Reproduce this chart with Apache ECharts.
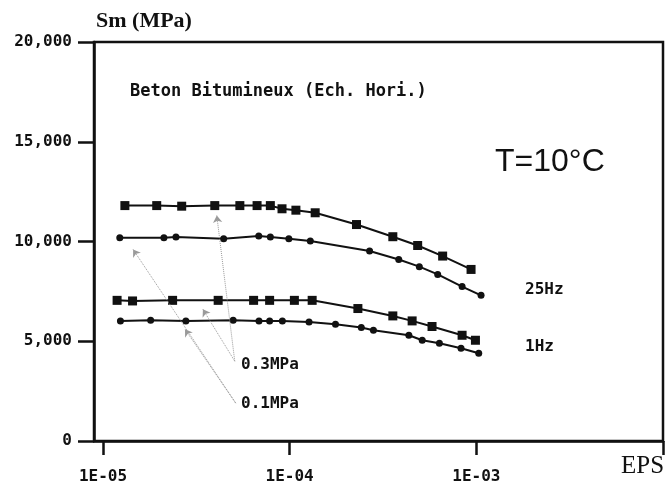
<!DOCTYPE html>
<html>
<head>
<meta charset="utf-8">
<script src="https://cdn.jsdelivr.net/npm/echarts@6/dist/echarts.min.js"></script>
<style>
  html, body { margin: 0; padding: 0; background: #fff; }
  #chart { width: 668px; height: 483px; }
</style>
</head>
<body>
<div id="chart"></div>
<script>
// strain (EPS) and modulus Sm (MPa)
const eps25Hz03 = [1.31e-5, 1.94e-5, 2.64e-5, 3.97e-5, 5.41e-5, 6.69e-5, 7.88e-5, 9.1e-5, 1.08e-4, 1.37e-4, 2.28e-4, 3.57e-4, 4.85e-4, 6.6e-4, 9.37e-4];
const sm25Hz03 = [11800, 11800, 11770, 11800, 11800, 11800, 11800, 11640, 11570, 11440, 10850, 10240, 9800, 9270, 8600];

const eps25Hz01 = [1.23e-5, 2.12e-5, 2.46e-5, 4.43e-5, 6.83e-5, 7.88e-5, 9.9e-5, 1.29e-4, 2.68e-4, 3.84e-4, 4.95e-4, 6.21e-4, 8.39e-4, 1.06e-3];
const sm25Hz01 = [10190, 10190, 10220, 10140, 10270, 10220, 10140, 10020, 9520, 9100, 8740, 8350, 7740, 7300];

const eps1Hz03 = [1.19e-5, 1.44e-5, 2.36e-5, 4.14e-5, 6.41e-5, 7.81e-5, 1.06e-4, 1.32e-4, 2.32e-4, 3.57e-4, 4.53e-4, 5.79e-4, 8.39e-4, 9.89e-4];
const sm1Hz03 = [7050, 7020, 7050, 7050, 7050, 7050, 7050, 7050, 6640, 6270, 6020, 5740, 5300, 5050];

const eps1Hz01 = [1.24e-5, 1.80e-5, 2.78e-5, 4.98e-5, 6.85e-5, 7.81e-5, 9.14e-5, 1.27e-4, 1.76e-4, 2.42e-4, 2.81e-4, 4.35e-4, 5.13e-4, 6.34e-4, 8.28e-4, 1.03e-3];
const sm1Hz01 = [6020, 6050, 6020, 6050, 6020, 6020, 6020, 5970, 5850, 5690, 5550, 5300, 5050, 4900, 4650, 4400];

const xTickValues = [1e-5, 1e-4, 1e-3, 1e-2];
const xTickLabels = ['1E-05', '1E-04', '1E-03'];
const yTickLabels = ['0', '5,000', '10,000', '15,000', '20,000'];

// annotation arrows: [from, to] in data space
const arrows03 = [
  [[5.08e-5, 4000], [4.07e-5, 11300]],
  [[5.08e-5, 4000], [3.43e-5, 6600]]
];
const arrows01 = [
  [[5.14e-5, 1900], [1.45e-5, 9600]],
  [[5.14e-5, 1900], [2.75e-5, 5600]]
];

const INK = '#111';
const monoFont = '"DejaVu Sans Mono", monospace';

function zip(xs, ys) {
  return xs.map((x, i) => [x, ys[i]]);
}

function curve(name, xs, ys, symbol, size) {
  return {
    name,
    type: 'line',
    data: zip(xs, ys),
    symbol,
    symbolSize: size,
    showSymbol: true,
    lineStyle: { color: INK, width: 2 },
    itemStyle: { color: INK },
    silent: true
  };
}

function label(text, x, y, font) {
  return {
    type: 'text',
    x, y,
    style: { text, font, fill: INK, textVerticalAlign: 'middle', verticalAlign: 'middle' }
  };
}

const chart = echarts.init(document.getElementById('chart'), null, { renderer: 'canvas' });

const arrowLines = arrows03.concat(arrows01).map(a => [{ coord: a[0] }, { coord: a[1] }]);

const s1 = curve('25Hz 0.3MPa', eps25Hz03, sm25Hz03, 'rect', 9);
s1.markLine = {
  silent: true,
  symbol: ['none', 'arrow'],
  symbolSize: 7,
  label: { show: false },
  lineStyle: { color: '#9a9a9a', type: 'dotted', width: 1 },
  data: arrowLines
};

const option = {
  backgroundColor: '#fff',
  animation: false,
  grid: {
    left: 94, right: 5, top: 42, bottom: 42,
    containLabel: false,
    outerBoundsMode: 'none',
    show: true,
    borderColor: INK,
    borderWidth: 2.5
  },
  xAxis: {
    type: 'log',
    logBase: 10,
    min: 8.95e-6,
    max: 0.01,
    axisLine: { lineStyle: { color: INK, width: 2.5 } },
    axisTick: {
      show: true, inside: false, length: 14,
      customValues: xTickValues,
      lineStyle: { color: INK, width: 2.5 }
    },
    splitLine: { show: false },
    axisLabel: {
      color: INK,
      fontFamily: monoFont,
      fontWeight: 'bold',
      fontSize: 16,
      margin: 28,
      formatter: v => {
        const e = Math.log10(v);
        const r = Math.round(e);
        if (Math.abs(e - r) > 1e-6) return '';
        return xTickLabels[r + 5] || '';
      }
    }
  },
  yAxis: {
    type: 'value',
    min: 0,
    max: 20000,
    interval: 5000,
    axisLine: { show: true, lineStyle: { color: INK, width: 2.5 } },
    axisTick: { show: true, inside: false, length: 16, lineStyle: { color: INK, width: 2.5 } },
    splitLine: { show: false },
    axisLabel: {
      color: INK,
      fontFamily: monoFont,
      fontWeight: 'bold',
      fontSize: 16,
      margin: 22,
      formatter: v => yTickLabels[Math.round(v / 5000)]
    }
  },
  graphic: [
    label('Sm (MPa)', 96, 21, 'bold 22px "Liberation Serif", serif'),
    label('EPS', 621, 466, '25px "Liberation Serif", serif'),
    label('Beton Bitumineux (Ech. Hori.)', 130, 92, 'bold 17px ' + monoFont),
    label('T=10°C', 495, 162, '32px "Liberation Sans", sans-serif'),
    label('25Hz', 525, 290, 'bold 16px ' + monoFont),
    label('1Hz', 525, 347, 'bold 16px ' + monoFont),
    label('0.3MPa', 241, 365, 'bold 16px ' + monoFont),
    label('0.1MPa', 241, 404, 'bold 16px ' + monoFont)
  ],
  series: [
    s1,
    curve('25Hz 0.1MPa', eps25Hz01, sm25Hz01, 'circle', 7),
    curve('1Hz 0.3MPa', eps1Hz03, sm1Hz03, 'rect', 9),
    curve('1Hz 0.1MPa', eps1Hz01, sm1Hz01, 'circle', 7)
  ]
};

chart.setOption(option);
</script>
</body>
</html>
